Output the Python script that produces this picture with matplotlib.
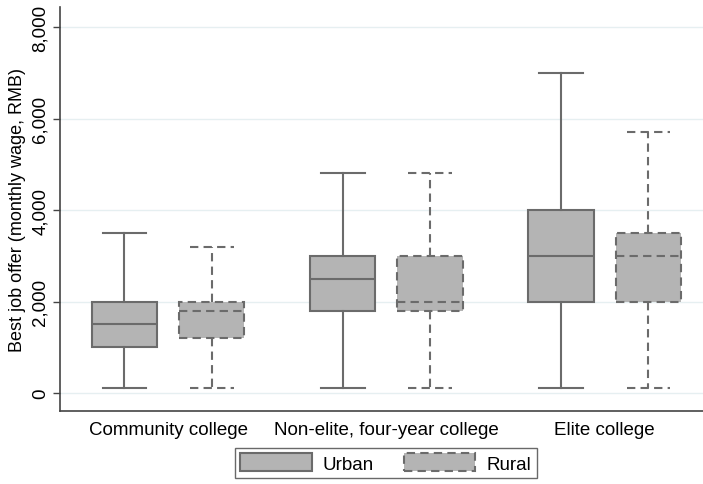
import matplotlib
matplotlib.use("Agg")
import matplotlib.pyplot as plt
from matplotlib.patches import Patch
from matplotlib.ticker import FuncFormatter

plt.rcParams['font.family'] = ['Liberation Sans', 'DejaVu Sans']

categories = ["Community college", "Non-elite, four-year college", "Elite college"]
groups = ["Urban", "Rural"]

# Box stats per category: [Urban, Rural]
whislo = {"Urban": [100, 100, 100], "Rural": [100, 100, 100]}
q1 = {"Urban": [1000, 1800, 2000], "Rural": [1200, 1800, 2000]}
med = {"Urban": [1500, 2500, 3000], "Rural": [1800, 2000, 3000]}
q3 = {"Urban": [2000, 3000, 4000], "Rural": [2000, 3000, 3500]}
whishi = {"Urban": [3500, 4800, 7000], "Rural": [3200, 4800, 5700]}

yticks = [0, 2000, 4000, 6000, 8000]

fig = plt.figure(figsize=(7.03, 4.85), dpi=100)
ax = fig.add_axes([60/703, 73/485, 1 - 60/703, (412-8)/485])

face = "#b4b4b4"
edge = "#6b6b6b"
offsets = {"Urban": -0.2, "Rural": 0.2}
styles = {"Urban": "-", "Rural": (0, (4, 2.5))}

for g in groups:
    stats = []
    for i in range(len(categories)):
        stats.append(dict(med=med[g][i], q1=q1[g][i], q3=q3[g][i],
                          whislo=whislo[g][i], whishi=whishi[g][i], fliers=[]))
    pos = [i + offsets[g] for i in range(len(categories))]
    ls = styles[g]
    ax.bxp(stats, positions=pos, widths=0.30, patch_artist=True,
           showfliers=False, capwidths=0.20,
           boxprops=dict(facecolor=face, edgecolor=edge, linewidth=1.5, linestyle=ls),
           medianprops=dict(color=edge, linewidth=1.5, linestyle=ls),
           whiskerprops=dict(color=edge, linewidth=1.5, linestyle=ls),
           capprops=dict(color=edge, linewidth=1.5, linestyle=ls),
           manage_ticks=False, zorder=3)

ax.set_xlim(-0.495, 2.45)
ax.set_ylim(-393, 8437)
ax.set_yticks(yticks)
ax.yaxis.set_major_formatter(FuncFormatter(lambda v, p: f"{int(v):,}"))
ax.tick_params(axis='y', direction='out', length=5, width=1, color="#444444",
               labelsize=13.5, labelrotation=90, pad=3)
for lab in ax.get_yticklabels():
    lab.set_va('center')
ax.set_xticks(range(len(categories)))
ax.set_xticklabels(categories, fontsize=13.5)
ax.tick_params(axis='x', length=0, pad=7)
ax.grid(axis='y', color="#e6eff1", linewidth=1, zorder=0)
ax.set_axisbelow(True)
for s in ["top", "right"]:
    ax.spines[s].set_visible(False)
for s in ["left", "bottom"]:
    ax.spines[s].set_color("#444444")
    ax.spines[s].set_linewidth(1.2)
ax.set_ylabel("Best job offer (monthly wage, RMB)", fontsize=13, labelpad=4)

handles = [Patch(facecolor=face, edgecolor=edge, linewidth=1.5, linestyle=styles[g], label=g)
           for g in groups]
leg = fig.legend(handles=handles, loc='center', bbox_to_anchor=(386/703, 1 - 464/485),
                 ncol=2, fontsize=13.5, frameon=True, fancybox=False,
                 handlelength=3.8, handleheight=1.1, columnspacing=1.6,
                 handletextpad=0.6, borderpad=0.3, borderaxespad=0)
leg.get_frame().set_edgecolor("#444444")
leg.get_frame().set_linewidth(1.0)

fig.savefig("out.png", dpi=100)
